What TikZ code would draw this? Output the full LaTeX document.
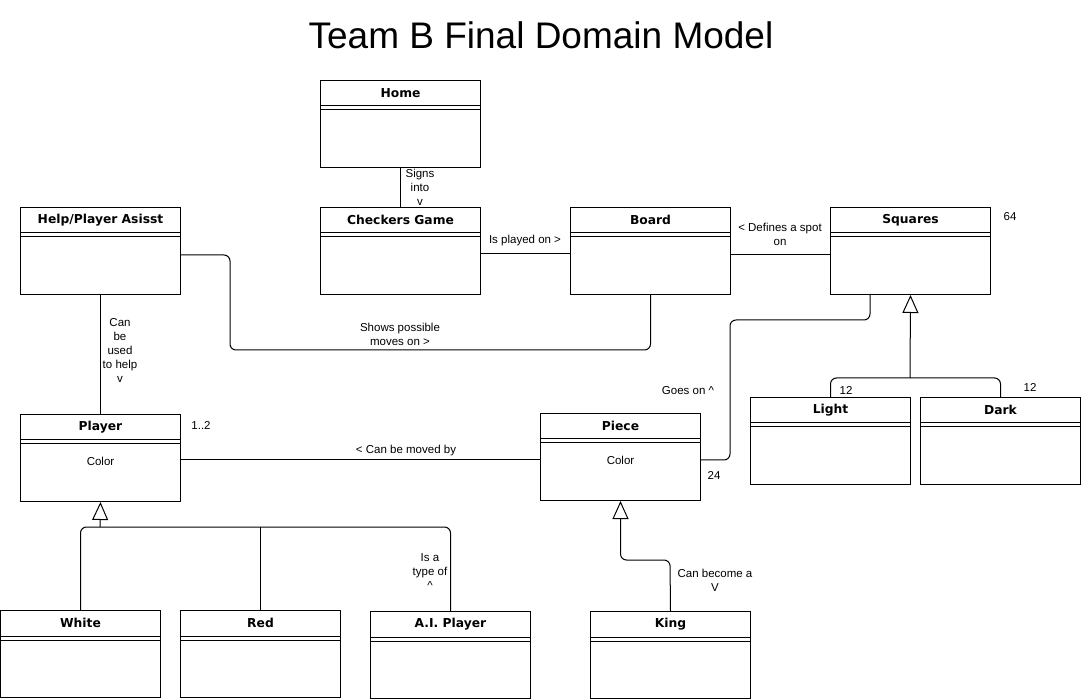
\documentclass[tikz,border=0pt]{standalone}
\usepackage{fontspec}
\setmainfont{Liberation Sans}
\newfontfamily\boxfont{DejaVu Sans}
\usetikzlibrary{calc,arrows.meta}
\tikzset{
  cls/.style={draw, line width=1pt, minimum width=160pt, minimum height=87pt, inner sep=0pt, anchor=north west},
  clstitle/.style={font=\boxfont\bfseries\fontsize{12.3}{14}\selectfont, inner sep=0pt},
  attr/.style={font=\fontsize{11.5}{13}\selectfont, inner sep=0pt},
  lbl/.style={font=\fontsize{11.5}{14}\selectfont, align=center, inner sep=0pt},
  conn/.style={line width=1pt, rounded corners=6pt},
  gen/.style={line width=1pt, rounded corners=6pt, -{Triangle[open, length=18pt, width=16pt, line width=1pt]}}
}
\newcommand\umlclass[5]{%
  \node[cls] (#1) at (#2,#3) {};
  \node[clstitle] (#1-t) at ($(#1.north)+(0pt,-13pt)$) {#4};
  \draw[line width=1pt] ($(#1.north west)+(0pt,-26pt)$) -- ($(#1.north east)+(0pt,-26pt)$);
  \draw[line width=1pt] ($(#1.north west)+(0pt,-30pt)$) -- ($(#1.north east)+(0pt,-30pt)$);
  \node[attr] (#1-a) at ($(#1.north)+(0pt,-47pt)$) {#5};
}
\begin{document}
\begin{tikzpicture}[x=1pt, y=-1pt]
\useasboundingbox (0,0) rectangle (1082,700);
\node[font=\fontsize{37}{41}\selectfont] (title) at (541,35) {Team B Final Domain Model};

\umlclass{home}{320}{80}{Home}{}
\umlclass{help}{20}{207}{Help/Player Asisst}{}
\umlclass{checkers}{320}{207}{Checkers Game}{}
\umlclass{board}{570}{207}{Board}{}
\umlclass{squares}{830}{207}{Squares}{}
\umlclass{player}{20}{414}{Player}{Color}
\umlclass{piece}{540}{413}{Piece}{Color}
\umlclass{light}{750}{397}{Light}{}
\umlclass{dark}{920}{397}{Dark}{}
\umlclass{white}{0}{610}{White}{}
\umlclass{red}{180}{610}{Red}{}
\umlclass{ai}{370}{611}{A.I. Player}{}
\umlclass{king}{590}{611}{King}{}

% associations
\draw[conn] (home.south) -- (checkers.north);
\coordinate (cb) at (480,254);
\draw[conn] (cb) -- (board.west |- cb);
\coordinate (bs) at (730,255);
\draw[conn] (bs) -- (squares.west |- bs);
\draw[conn] (help.south) -- (player.north);
\coordinate (hb1) at (180,255);
\coordinate (hb2) at (230,350);
\draw[conn] (hb1) -- (hb1 -| hb2) -- (hb2) -- (board.south |- hb2) -- (board.south);
\coordinate (sp1) at (870,294);
\coordinate (sp2) at (730,320);
\coordinate (sp3) at (700,460);
\draw[conn] (sp1) -- (sp1 |- sp2) -- (sp2) -- (sp2 |- sp3) -- (sp3);
\coordinate (pp) at (180,460);
\draw[conn] (pp) -- (piece.west |- pp);

% generalizations
\coordinate (sqj) at (910,378);
\draw[conn] (light.north) -- (light.north |- sqj) -- (sqj) -- (dark.north |- sqj) -- (dark.north);
\draw[gen] (sqj) -- (squares.south);
\coordinate (plj) at (100,527);
\draw[conn] (white.north) -- (white.north |- plj) -- (plj) -- (ai.north |- plj) -- (ai.north);
\draw[conn] (red.north) -- (red.north |- plj);
\draw[gen] (plj) -- (player.south);
\coordinate (pkj) at (670,560);
\draw[gen] (king.north) -- (pkj) -- (pkj -| piece.south) -- (piece.south);

% labels
\node[lbl] (l1) at (420,187) {Signs\\into\\v};
\node[lbl] (l2) at (525,241) {Is played on >};
\node[lbl] (l3) at (780,234) {< Defines a spot\\on};
\node[lbl] (l4) at (1010,217) {64};
\node[lbl] (l5) at (120,350) {Can\\be\\used\\to help\\v};
\node[lbl] (l6) at (400,334) {Shows possible\\moves on >};
\node[lbl] (l7) at (688,391) {Goes on \^{}};
\node[lbl] (l8) at (846,390) {12};
\node[lbl] (l9) at (1030,387) {12};
\node[lbl] (l10) at (201,425) {1..2};
\node[lbl] (l11) at (406,451) {< Can be moved by};
\node[lbl] (l12) at (714,475) {24};
\node[lbl] (l13) at (430,572) {Is a\\type of\\\^{}};
\node[lbl] (l14) at (715,580) {Can become a\\V};
\end{tikzpicture}
\end{document}
